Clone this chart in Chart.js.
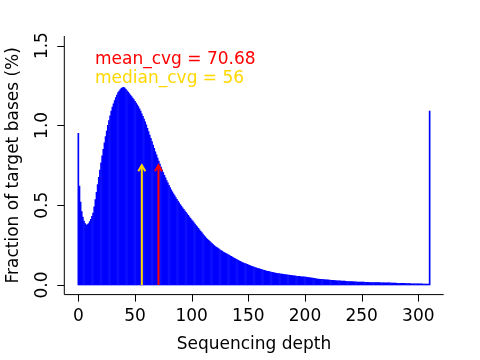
<!DOCTYPE html>
<html>
<head>
<meta charset="utf-8">
<script src="https://cdn.jsdelivr.net/npm/chart.js@4.4.1/dist/chart.umd.min.js"></script>
<style>
  html, body { margin: 0; padding: 0; background: #fff; }
  canvas { display: block; }
</style>
</head>
<body>
<canvas id="cvgChart" width="480" height="360"></canvas>
<script>
// --- DATA ---
// fraction of target bases (%) at each sequencing depth 0..310
const fraction = [
  0.95, 0.62, 0.52, 0.46, 0.425, 0.40, 0.385, 0.376, 0.378, 0.385,
  0.398, 0.412, 0.43, 0.45, 0.49, 0.535, 0.58, 0.63, 0.675, 0.72,
  0.765, 0.81, 0.85, 0.89, 0.93, 0.965, 1.0, 1.03, 1.06, 1.09,
  1.115, 1.135, 1.155, 1.175, 1.19, 1.205, 1.215, 1.225, 1.232, 1.237,
  1.238, 1.234, 1.226, 1.217, 1.208, 1.199, 1.19, 1.181, 1.171, 1.161,
  1.151, 1.14, 1.129, 1.118, 1.104, 1.089, 1.073, 1.057, 1.04, 1.023,
  1.003, 0.982, 0.961, 0.94, 0.919, 0.898, 0.877, 0.856, 0.835, 0.815,
  0.795, 0.776, 0.757, 0.739, 0.721, 0.704, 0.687, 0.671, 0.655, 0.64,
  0.625, 0.611, 0.597, 0.584, 0.572, 0.56, 0.548, 0.537, 0.526, 0.515,
  0.504, 0.494, 0.484, 0.474, 0.464, 0.455, 0.446, 0.436, 0.427, 0.418,
  0.409, 0.4, 0.391, 0.382, 0.373, 0.364, 0.355, 0.346, 0.337, 0.328,
  0.319, 0.31, 0.302, 0.294, 0.287, 0.28, 0.273, 0.266, 0.259, 0.253,
  0.247, 0.241, 0.236, 0.231, 0.226, 0.221, 0.216, 0.212, 0.207, 0.203,
  0.199, 0.195, 0.191, 0.187, 0.183, 0.179, 0.175, 0.171, 0.167, 0.163,
  0.159, 0.155, 0.151, 0.148, 0.144, 0.141, 0.138, 0.135, 0.132, 0.129,
  0.126, 0.123, 0.12, 0.117, 0.115, 0.112, 0.11, 0.108, 0.105, 0.103,
  0.101, 0.098, 0.096, 0.094, 0.092, 0.09, 0.088, 0.086, 0.085, 0.083,
  0.081, 0.08, 0.078, 0.076, 0.075, 0.074, 0.072, 0.071, 0.07, 0.069,
  0.068, 0.067, 0.066, 0.065, 0.064, 0.063, 0.062, 0.061, 0.06, 0.059,
  0.058, 0.057, 0.056, 0.055, 0.055, 0.054, 0.053, 0.052, 0.051, 0.051,
  0.05, 0.049, 0.048, 0.047, 0.046, 0.045, 0.044, 0.043, 0.042, 0.041,
  0.039, 0.038, 0.037, 0.036, 0.036, 0.035, 0.034, 0.034, 0.033, 0.032,
  0.032, 0.031, 0.031, 0.030, 0.029, 0.029, 0.028, 0.028, 0.027, 0.027,
  0.026, 0.026, 0.025, 0.025, 0.024, 0.024, 0.023, 0.023, 0.022, 0.022,
  0.021, 0.021, 0.021, 0.020, 0.020, 0.020, 0.019, 0.019, 0.019, 0.018,
  0.018, 0.018, 0.018, 0.017, 0.017, 0.017, 0.017, 0.016, 0.016, 0.016,
  0.016, 0.016, 0.015, 0.015, 0.015, 0.015, 0.015, 0.014, 0.014, 0.014,
  0.014, 0.014, 0.013, 0.013, 0.013, 0.013, 0.012, 0.012, 0.012, 0.012,
  0.012, 0.011, 0.011, 0.011, 0.011, 0.010, 0.010, 0.010, 0.010, 0.009,
  0.009, 0.009, 0.009, 0.009, 0.008, 0.008, 0.008, 0.008, 0.008, 0.007,
  0.007, 0.007, 0.007, 0.007, 0.006, 0.006, 0.006, 0.006, 0.006, 0.006,
  1.09
];
// depth of each value is its index
const depths = fraction.map((v, i) => i);

const xTicks = [0, 50, 100, 150, 200, 250, 300];
const yTicks = [0.0, 0.5, 1.0, 1.5];
const yTickLabels = ['0.0', '0.5', '1.0', '1.5'];

const meanCvg = 70.68;
const medianCvg = 56;
const arrowTop = 0.75;

const xTitle = 'Sequencing depth';
const yTitle = 'Fraction of target bases (%)';
const meanText = 'mean_cvg = ' + meanCvg;
const medianText = 'median_cvg = ' + medianCvg;

const FONT = '17px "DejaVu Sans", sans-serif';

// --- AXES, LABELS AND ARROWS (R style) ---
function drawArrow(ctx, x, y0, y1, color) {
  ctx.save();
  ctx.strokeStyle = color;
  ctx.lineWidth = 2;
  ctx.beginPath();
  ctx.moveTo(x, y0);
  ctx.lineTo(x, y1);
  ctx.stroke();
  // arrow head
  const len = 7, ang = Math.PI / 6;
  ctx.beginPath();
  ctx.moveTo(x - len * Math.sin(ang), y1 + len * Math.cos(ang));
  ctx.lineTo(x, y1);
  ctx.lineTo(x + len * Math.sin(ang), y1 + len * Math.cos(ang));
  ctx.stroke();
  ctx.restore();
}

const rAxesPlugin = {
  id: 'rAxes',
  afterDatasetsDraw(chart) {
    const ctx = chart.ctx;
    const xs = chart.scales.x;
    const ys = chart.scales.y;
    const area = chart.chartArea;

    // arrows for median and mean
    drawArrow(ctx, xs.getPixelForValue(medianCvg), ys.getPixelForValue(0), ys.getPixelForValue(arrowTop), '#ffd700');
    drawArrow(ctx, xs.getPixelForValue(meanCvg), ys.getPixelForValue(0), ys.getPixelForValue(arrowTop), '#ff0000');

    ctx.save();
    ctx.strokeStyle = '#000';
    ctx.lineWidth = 1;

    // L-shaped box
    ctx.beginPath();
    ctx.moveTo(area.left, area.top);
    ctx.lineTo(area.left, area.bottom);
    ctx.lineTo(area.right, area.bottom);
    ctx.stroke();

    // x ticks
    ctx.fillStyle = '#000';
    ctx.font = FONT;
    ctx.textAlign = 'center';
    ctx.textBaseline = 'alphabetic';
    xTicks.forEach(t => {
      const px = Math.round(xs.getPixelForValue(t)) + 0.5;
      ctx.beginPath();
      ctx.moveTo(px, area.bottom);
      ctx.lineTo(px, area.bottom + 7);
      ctx.stroke();
      ctx.fillText(String(t), xs.getPixelForValue(t), 321);
    });

    // y ticks (labels rotated like R)
    yTicks.forEach((t, i) => {
      const py = Math.round(ys.getPixelForValue(t)) + 0.5;
      ctx.beginPath();
      ctx.moveTo(area.left, py);
      ctx.lineTo(area.left - 7, py);
      ctx.stroke();
      ctx.save();
      ctx.translate(47, ys.getPixelForValue(t));
      ctx.rotate(-Math.PI / 2);
      ctx.fillText(yTickLabels[i], 0, 0);
      ctx.restore();
    });

    // axis titles
    ctx.fillText(xTitle, (area.left + area.right) / 2, 349);
    ctx.save();
    ctx.translate(18, (area.top + area.bottom) / 2);
    ctx.rotate(-Math.PI / 2);
    ctx.fillText(yTitle, 0, 0);
    ctx.restore();

    // stats text
    ctx.textAlign = 'left';
    ctx.fillStyle = '#ff0000';
    ctx.fillText(meanText, 95, 64);
    ctx.fillStyle = '#ffd700';
    ctx.fillText(medianText, 95, 83);
    ctx.restore();
  }
};

// --- CHART ---
const ctx = document.getElementById('cvgChart').getContext('2d');
const cvgChart = new Chart(ctx, {
  type: 'bar',
  data: {
    datasets: [{
      label: 'coverage',
      data: depths.map((d, i) => ({ x: d, y: fraction[i] })),
      backgroundColor: '#0000ff',
      borderWidth: 0,
      barThickness: 1,
      grouped: false
    }]
  },
  options: {
    responsive: false,
    animation: false,
    devicePixelRatio: 1,
    layout: { padding: { left: 64.3, right: 36.3, top: 36, bottom: 65.4 } },
    plugins: {
      legend: { display: false },
      tooltip: { enabled: false },
      title: { display: false }
    },
    scales: {
      x: { type: 'linear', min: -12.4, max: 322.4, display: false, offset: false },
      y: { type: 'linear', min: -0.06, max: 1.56, display: false }
    }
  },
  plugins: [rAxesPlugin]
});
</script>
</body>
</html>
